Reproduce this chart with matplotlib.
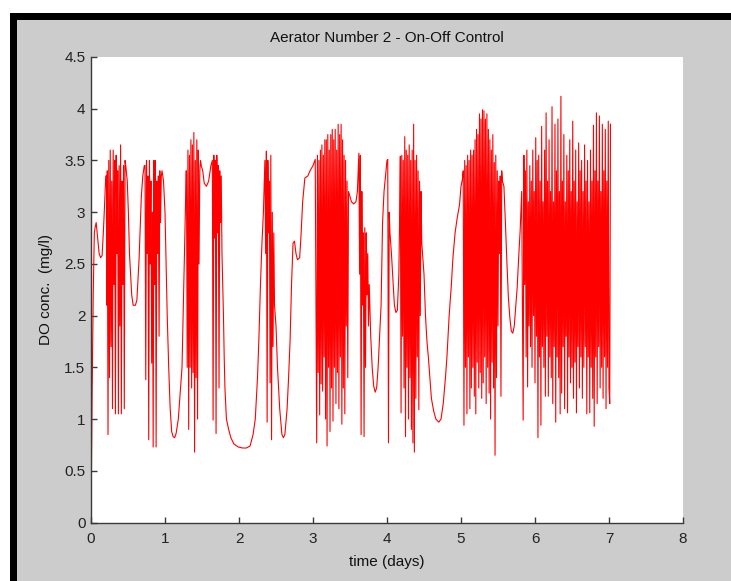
import matplotlib
matplotlib.use("Agg")
import matplotlib.pyplot as plt
from matplotlib.patches import Rectangle

plt.rcParams['font.family'] = ['Liberation Sans Narrow', 'DejaVu Sans Condensed', 'Liberation Sans', 'DejaVu Sans']

# DO readings (time in days, DO in mg/l)
t_start = [0.0, 0.01, 0.015, 0.03, 0.045, 0.055, 0.07, 0.09, 0.11, 0.13, 0.15, 0.17, 0.185, 0.20]
do_start = [0.0, 0.8, 1.22, 2.2, 2.8, 2.85, 2.9, 2.75, 2.6, 2.56, 2.58, 2.85, 3.1, 3.35]

t_osc1 = [0.21, 0.215, 0.22, 0.23, 0.24, 0.25, 0.26, 0.27, 0.28, 0.29, 0.30, 0.31, 0.32, 0.33,
          0.34, 0.35, 0.36, 0.37, 0.38, 0.39, 0.40, 0.41, 0.42, 0.43, 0.44, 0.45, 0.46]
do_osc1 = [3.35, 2.1, 3.4, 0.85, 3.5, 1.4, 3.6, 1.7, 3.3, 1.1, 3.6, 2.3, 3.5, 1.05,
           3.55, 2.6, 3.4, 1.05, 3.45, 1.9, 3.65, 1.05, 3.3, 2.3, 3.45, 1.1, 3.5]

t_dip1 = [0.47, 0.49, 0.505, 0.52, 0.535, 0.55, 0.57, 0.60, 0.62, 0.635, 0.65, 0.665, 0.68, 0.70, 0.72]
do_dip1 = [3.45, 3.3, 3.0, 2.6, 2.4, 2.2, 2.1, 2.1, 2.15, 2.35, 2.55, 2.85, 3.15, 3.35, 3.45]

t_osc2 = [0.73, 0.74, 0.75, 0.76, 0.77, 0.78, 0.79, 0.80, 0.81, 0.82, 0.83, 0.84,
          0.85, 0.86, 0.87, 0.88, 0.89, 0.90, 0.91, 0.92, 0.93, 0.94, 0.95, 0.96]
do_osc2 = [3.45, 1.38, 3.5, 2.6, 3.35, 0.8, 3.5, 2.5, 3.3, 1.54, 3.0, 0.73,
           3.5, 2.3, 3.5, 0.73, 3.3, 2.6, 3.35, 1.8, 3.4, 2.9, 3.35, 3.4]

t_dip2 = [0.98, 1.0, 1.015, 1.03, 1.05, 1.07, 1.09, 1.11, 1.13, 1.15, 1.18, 1.20, 1.23, 1.245, 1.26, 1.275, 1.285]
do_dip2 = [3.3, 3.0, 2.5, 2.0, 1.5, 1.1, 0.88, 0.83, 0.82, 0.86, 1.0, 1.2, 1.5, 2.0, 2.5, 3.0, 3.4]

t_osc3 = [1.29, 1.30, 1.31, 1.32, 1.33, 1.34, 1.35, 1.36, 1.37, 1.38,
          1.39, 1.40, 1.41, 1.42, 1.43, 1.44, 1.45, 1.46, 1.47, 1.48]
do_osc3 = [3.4, 1.5, 3.6, 0.9, 3.55, 1.5, 3.7, 1.3, 3.65, 1.45,
           3.77, 0.68, 3.5, 1.4, 3.7, 1.0, 3.6, 2.5, 3.4, 3.5]

t_flat3 = [1.49, 1.51, 1.53, 1.56, 1.59, 1.62, 1.64]
do_flat3 = [3.45, 3.4, 3.28, 3.25, 3.3, 3.45, 3.5]

t_osc3b = [1.65, 1.66, 1.67, 1.68, 1.69, 1.70, 1.71, 1.72, 1.73, 1.74, 1.75, 1.76]
do_osc3b = [0.99, 3.55, 2.75, 3.5, 0.86, 3.55, 2.8, 3.45, 1.3, 3.4, 2.9, 3.35]

t_dip3 = [1.77, 1.78, 1.79, 1.80, 1.81, 1.83, 1.86, 1.89, 1.93, 1.99, 2.05, 2.10,
          2.15, 2.19, 2.22, 2.25, 2.27, 2.29, 2.31, 2.33, 2.35]
do_dip3 = [2.6, 2.3, 2.0, 1.6, 1.3, 1.0, 0.9, 0.82, 0.76, 0.73, 0.72, 0.72,
           0.74, 0.85, 1.0, 1.4, 1.8, 2.3, 2.7, 3.0, 3.5]

t_osc4 = [2.36, 2.37, 2.38, 2.39, 2.40, 2.41, 2.42, 2.43, 2.44, 2.45, 2.46, 2.47, 2.48]
do_osc4 = [2.6, 3.59, 0.97, 3.5, 2.8, 3.3, 1.35, 3.55, 0.8, 3.0, 1.7, 2.8, 2.1]

t_dip4 = [2.50, 2.52, 2.55, 2.58, 2.60, 2.62, 2.65, 2.67, 2.69, 2.71, 2.73, 2.75,
          2.77, 2.79, 2.82, 2.84, 2.86, 2.89, 2.93, 2.96, 3.00, 3.03]
do_dip4 = [1.9, 1.5, 1.1, 0.85, 0.82, 0.85, 1.1, 1.4, 1.75, 2.3, 2.7, 2.72,
           2.6, 2.54, 2.56, 2.8, 3.1, 3.33, 3.35, 3.4, 3.45, 3.51]

t_osc5 = [3.05, 3.06, 3.07, 3.08, 3.09, 3.10, 3.11, 3.12, 3.13, 3.14, 3.15, 3.16, 3.17, 3.18,
          3.19, 3.20, 3.21, 3.22, 3.23, 3.24, 3.25, 3.26, 3.27, 3.28, 3.29, 3.30, 3.31, 3.32,
          3.33, 3.34, 3.35, 3.36, 3.37, 3.38, 3.39, 3.40, 3.41, 3.42, 3.43, 3.44, 3.45, 3.46,
          3.47, 3.48]
do_osc5 = [0.77, 3.55, 1.45, 3.5, 1.04, 3.6, 1.34, 3.65, 1.27, 3.55, 1.6, 3.7, 1.0, 3.7,
           0.74, 3.75, 1.5, 3.6, 0.88, 3.75, 1.3, 3.8, 0.98, 3.7, 1.5, 3.8, 1.15, 3.6,
           1.45, 3.85, 1.1, 3.75, 1.6, 3.85, 0.95, 3.7, 1.3, 3.55, 1.05, 3.5, 1.9, 3.3,
           1.4, 3.2]

t_flat5 = [3.50, 3.52, 3.55, 3.58, 3.60, 3.61]
do_flat5 = [3.15, 3.1, 3.08, 3.1, 3.2, 3.4]

t_osc5b = [3.62, 3.63, 3.64, 3.65, 3.66, 3.67, 3.68, 3.69, 3.70, 3.71, 3.72, 3.73, 3.74, 3.75, 3.76]
do_osc5b = [3.57, 2.4, 3.55, 0.85, 3.2, 2.1, 2.8, 0.83, 2.85, 1.5, 2.8, 2.2, 2.6, 1.9, 2.3]

t_dip5 = [3.78, 3.80, 3.82, 3.84, 3.86, 3.88, 3.90, 3.92, 3.93, 3.94, 3.96, 3.98, 4.00, 4.01]
do_dip5 = [1.8, 1.5, 1.32, 1.26, 1.3, 1.5, 1.8, 2.1, 2.5, 2.9, 3.2, 3.35, 3.5, 3.51]

t_osc6a = [4.02, 4.03, 4.04, 4.06, 4.08, 4.10, 4.12, 4.14, 4.16, 4.17]
do_osc6a = [0.77, 3.0, 2.8, 2.6, 2.35, 2.1, 2.03, 2.05, 2.4, 2.9]

t_osc6 = [4.18, 4.19, 4.20, 4.21, 4.22, 4.23, 4.24, 4.25, 4.26, 4.27, 4.28, 4.29, 4.30, 4.31,
          4.32, 4.33, 4.34, 4.35, 4.36, 4.37, 4.38, 4.39, 4.40, 4.41, 4.42, 4.43, 4.44, 4.45,
          4.46, 4.47, 4.48]
do_osc6 = [3.54, 1.06, 3.55, 1.8, 3.5, 1.3, 3.73, 0.83, 3.6, 1.5, 3.55, 1.0, 3.65, 1.4,
           3.5, 0.9, 3.6, 0.77, 3.85, 0.68, 3.5, 1.2, 3.55, 1.6, 3.4, 1.09, 3.3, 2.0,
           3.2, 2.7, 2.6]

t_dip6 = [4.50, 4.52, 4.54, 4.56, 4.58, 4.60, 4.63, 4.66, 4.70, 4.73, 4.76, 4.79, 4.81,
          4.84, 4.87, 4.89, 4.92, 4.95, 4.98, 5.00, 5.02]
do_dip6 = [2.4, 2.0, 1.75, 1.59, 1.4, 1.2, 1.08, 1.0, 0.97, 1.0, 1.15, 1.4, 1.6,
           2.0, 2.3, 2.55, 2.8, 2.95, 3.07, 3.25, 3.32]

t_osc7 = [5.03, 5.04, 5.05, 5.06, 5.07, 5.08, 5.09, 5.10, 5.11, 5.12, 5.13, 5.14, 5.15, 5.16,
          5.17, 5.18, 5.19, 5.20, 5.21, 5.22, 5.23, 5.24, 5.25, 5.26, 5.27, 5.28, 5.29, 5.30,
          5.31, 5.32, 5.33, 5.34, 5.35, 5.36, 5.37, 5.38, 5.39, 5.40, 5.41, 5.42, 5.43, 5.44,
          5.45, 5.46, 5.47, 5.48, 5.49, 5.50, 5.51, 5.52, 5.53, 5.54, 5.55, 5.56]
do_osc7 = [3.4, 0.94, 3.5, 1.5, 3.45, 1.05, 3.55, 1.6, 3.5, 1.1, 3.6, 1.3, 3.55, 1.5,
           3.6, 1.22, 3.7, 1.05, 3.8, 1.55, 3.75, 1.3, 3.95, 1.45, 3.9, 1.2, 3.99, 1.35,
           3.98, 1.6, 3.9, 1.15, 3.95, 1.5, 3.8, 1.25, 3.7, 1.0, 3.6, 1.55, 3.75, 1.3,
           3.48, 0.65, 3.55, 1.4, 3.4, 1.9, 3.3, 2.6, 3.35, 1.22, 3.4, 3.3]

t_dip7 = [5.58, 5.60, 5.62, 5.64, 5.66, 5.68, 5.70, 5.72, 5.74, 5.76, 5.78, 5.80, 5.82]
do_dip7 = [3.25, 2.9, 2.52, 2.18, 1.98, 1.85, 1.83, 1.9, 2.09, 2.28, 2.57, 2.83, 3.2]

t_osc8 = [5.84, 5.85, 5.86, 5.87, 5.88, 5.89, 5.90, 5.91, 5.92, 5.93,
          5.94, 5.95, 5.96, 5.97, 5.98, 5.99, 6.00, 6.01, 6.02, 6.03,
          6.04, 6.05, 6.06, 6.07, 6.08, 6.09, 6.10, 6.11, 6.12, 6.13,
          6.14, 6.15, 6.16, 6.17, 6.18, 6.19, 6.20, 6.21, 6.22, 6.23,
          6.24, 6.25, 6.26, 6.27, 6.28, 6.29, 6.30, 6.31, 6.32, 6.33,
          6.34, 6.35, 6.36, 6.37, 6.38, 6.39, 6.40, 6.41, 6.42, 6.43,
          6.44, 6.45, 6.46, 6.47, 6.48, 6.49, 6.50, 6.51, 6.52, 6.53,
          6.54, 6.55, 6.56, 6.57, 6.58, 6.59, 6.60, 6.61, 6.62, 6.63,
          6.64, 6.65, 6.66, 6.67, 6.68, 6.69, 6.70, 6.71, 6.72, 6.73,
          6.74, 6.75, 6.76, 6.77, 6.78, 6.79, 6.80, 6.81, 6.82, 6.83,
          6.84, 6.85, 6.86, 6.87, 6.88, 6.89, 6.90, 6.91, 6.92, 6.93,
          6.94, 6.95, 6.96, 6.97, 6.98, 6.99, 7.00, 7.01, 7.02]
do_osc8 = [0.99, 3.55, 2.3, 3.4, 1.6, 3.6, 1.31, 3.1, 1.9, 3.45,
           1.7, 3.3, 1.5, 3.6, 2.0, 3.2, 1.35, 3.72, 1.8, 3.5,
           0.82, 3.55, 1.6, 3.3, 0.94, 3.83, 1.7, 3.1, 1.5, 3.6,
           1.22, 3.96, 1.8, 3.3, 1.22, 3.7, 1.6, 3.2, 1.4, 4.02,
           1.15, 3.1, 1.7, 3.85, 0.97, 3.4, 1.6, 3.9, 1.4, 3.2,
           1.05, 4.12, 1.25, 3.3, 1.7, 3.75, 1.1, 3.1, 1.8, 3.55,
           1.06, 3.4, 1.6, 3.7, 1.35, 3.2, 1.5, 3.88, 1.2, 3.3,
           1.55, 3.6, 1.06, 3.1, 1.7, 3.67, 1.3, 3.4, 1.6, 3.5,
           1.2, 3.2, 1.5, 3.65, 1.7, 3.3, 1.05, 3.5, 1.6, 3.1,
           1.06, 3.6, 1.5, 3.3, 1.2, 3.84, 0.93, 3.4, 1.6, 3.96,
           1.15, 3.3, 1.7, 3.93, 1.3, 3.2, 1.5, 3.85, 1.2, 3.4,
           1.6, 3.8, 1.1, 3.3, 1.5, 3.88, 1.3, 1.15, 3.85]

t_all = (t_start + t_osc1 + t_dip1 + t_osc2 + t_dip2 + t_osc3 + t_flat3 + t_osc3b + t_dip3
         + t_osc4 + t_dip4 + t_osc5 + t_flat5 + t_osc5b + t_dip5 + t_osc6a + t_osc6 + t_dip6
         + t_osc7 + t_dip7 + t_osc8)
do_all = (do_start + do_osc1 + do_dip1 + do_osc2 + do_dip2 + do_osc3 + do_flat3 + do_osc3b + do_dip3
          + do_osc4 + do_dip4 + do_osc5 + do_flat5 + do_osc5b + do_dip5 + do_osc6a + do_osc6 + do_dip6
          + do_osc7 + do_dip7 + do_osc8)

x_ticks = [0, 1, 2, 3, 4, 5, 6, 7, 8]
y_ticks = [0, 0.5, 1, 1.5, 2, 2.5, 3, 3.5, 4, 4.5]
y_labels = ['0', '0.5', '1', '1.5', '2', '2.5', '3', '3.5', '4', '4.5']

fig = plt.figure(figsize=(7.31, 5.81), dpi=100, facecolor='#cccccc')

# window frame: white margin, black border on top and left
fig.patches.append(Rectangle((0, 1 - 13 / 581), 1, 13 / 581, transform=fig.transFigure,
                             facecolor='white', edgecolor='none', zorder=0))
fig.patches.append(Rectangle((0, 0), 10 / 731, 1, transform=fig.transFigure,
                             facecolor='white', edgecolor='none', zorder=0))
fig.patches.append(Rectangle((10 / 731, 1 - 20 / 581), 1, 7 / 581, transform=fig.transFigure,
                             facecolor='black', edgecolor='none', zorder=1))
fig.patches.append(Rectangle((10 / 731, 0), 7 / 731, 1 - 13 / 581, transform=fig.transFigure,
                             facecolor='black', edgecolor='none', zorder=1))

ax = fig.add_axes([91 / 731, 1 - 522.5 / 581, 592 / 731, 465.5 / 581])
ax.set_facecolor('white')
ax.plot(t_all, do_all, color='#ff0000', linewidth=0.8)

ax.set_xlim(0, 8)
ax.set_ylim(0, 4.5)
ax.set_xticks(x_ticks)
ax.set_yticks(y_ticks)
ax.set_yticklabels(y_labels)

for side in ['top', 'right']:
    ax.spines[side].set_visible(False)
for side in ['left', 'bottom']:
    ax.spines[side].set_color('#3a3a3a')
    ax.spines[side].set_linewidth(1.0)
ax.tick_params(direction='in', length=4, width=1.0, color='#3a3a3a',
               labelsize=11, labelcolor='#222222')
ax.tick_params(axis='x', pad=7)
ax.tick_params(axis='y', pad=4)

ax.set_title('Aerator Number 2 - On-Off Control', fontsize=11, color='#111111', pad=11)
ax.set_xlabel('time (days)', fontsize=11, color='#111111', labelpad=6)
ax.set_ylabel('DO conc.  (mg/l)', fontsize=11, color='#111111', labelpad=8)

fig.savefig('out.png', dpi=100, facecolor=fig.get_facecolor())
